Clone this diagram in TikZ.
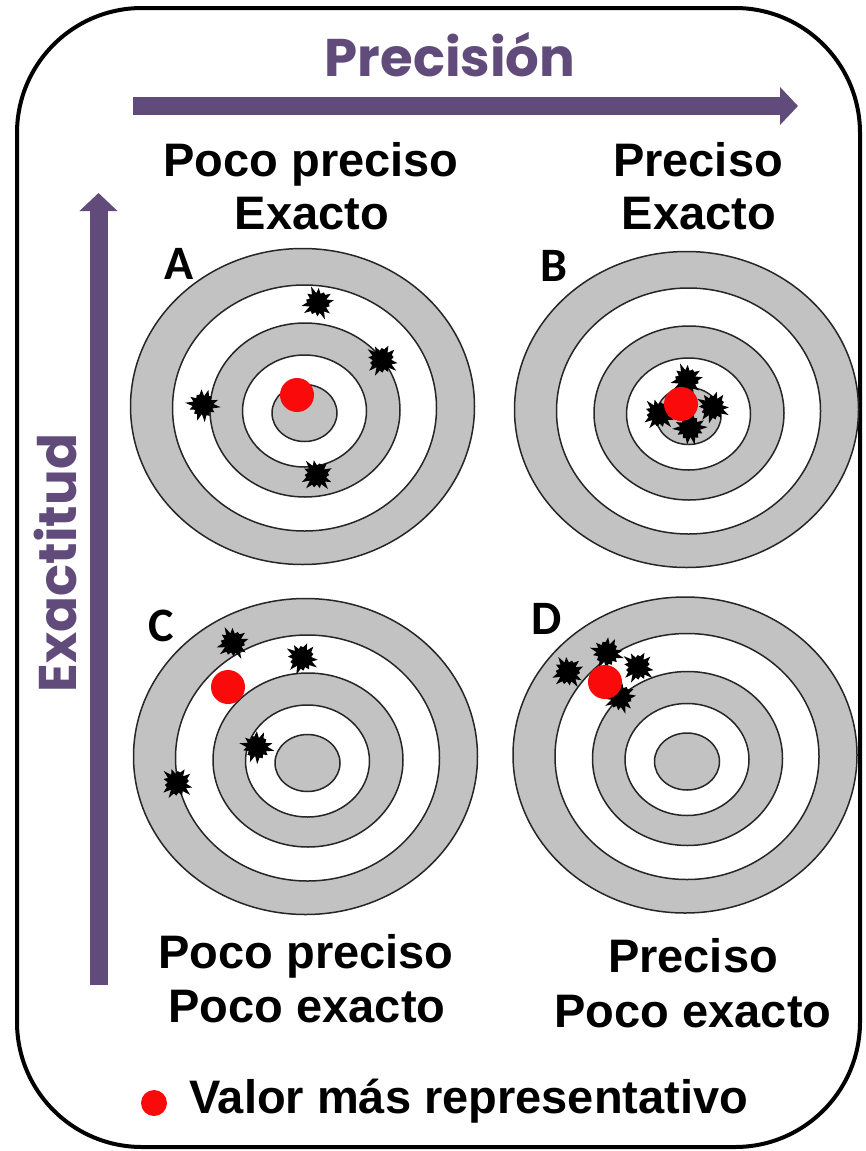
\documentclass[tikz,border=0pt]{standalone}
\usepackage{fontspec}
\setmainfont{Liberation Sans}
\newfontfamily\carlfont{Carlito}
\newfontfamily\poppfont{Poppins}
\usetikzlibrary{arrows.meta}
\definecolor{purp}{RGB}{96,75,123}
\definecolor{ringgray}{RGB}{194,194,194}
\definecolor{dotred}{RGB}{250,10,10}
\tikzset{
  ring/.style={draw=black!85, line width=1.5pt},
  lbl/.style={inner sep=0pt, anchor=base, font=\fontsize{47}{56}\selectfont\bfseries},
  letter/.style={inner sep=0pt, anchor=base, font=\carlfont\fontsize{48}{56}\selectfont\bfseries},
  purptitle/.style={inner sep=0pt, anchor=base, text=purp, font=\poppfont\fontsize{53}{60}\selectfont\bfseries},
  purparrow/.style={draw=purp, line width=18pt, -{Triangle[length=18pt,width=37pt]}},
  reddot/.style={circle, fill=dotred, inner sep=0pt, minimum size=34pt},
  pics/target/.style={code={
    \filldraw[fill=ringgray,ring] (0,0) ellipse[x radius=172pt,y radius=158pt];
    \filldraw[fill=white,ring] (2,1.5) ellipse[x radius=132pt,y radius=123pt];
    \filldraw[fill=ringgray,ring] (2.5,3.5) ellipse[x radius=95pt,y radius=87pt];
    \filldraw[fill=white,ring] (2,4.5) ellipse[x radius=62pt,y radius=56pt];
    \filldraw[fill=ringgray,ring] (2,6.5) ellipse[x radius=32.5pt,y radius=28.5pt];
  }},
  pics/splat/.style={code={
    \fill[black] (0:16) \foreach \i in {1,...,27} { -- ({\i*360/28}:{ifthenelse(mod(\i,2)==0, 15+3*sin(\i*131), 10+sin(\i*77))}) } -- cycle;
  }},
}
\begin{document}
\begin{tikzpicture}[x=1pt,y=-1pt]
\useasboundingbox (0,0) rectangle (865,1151);
% frame
\draw[line width=4pt, rounded corners=125pt] (17,8) rectangle (860,1147);
% title and axes
\node[purptitle] (title) at (450,76) {Precisión};
\coordinate (hs) at (133,106);
\coordinate (he) at (798,106);
\draw[purparrow] (hs) -- (he);
\coordinate (vs) at (98.5,985);
\coordinate (ve) at (98.5,193);
\draw[purparrow] (vs) -- (ve);
\node[purptitle, rotate=90] (ytitle) at (76,563) {Exactitud};
% top labels
\node[lbl] (tl1) at (311,176) {Poco preciso};
\node[lbl] (tl2) at (312,229) {Exacto};
\node[lbl] (tr1) at (698,176) {Preciso};
\node[lbl] (tr2) at (699,229) {Exacto};
% targets
\pic at (302.5,406.5) {target};
\pic at (686.5,409.5) {target};
\pic at (305.5,756.5) {target};
\pic at (685,755) {target};
% letters
\node[letter] (la) at (179,279) {A};
\node[letter] (lb) at (553.5,281) {B};
\node[letter] (lc) at (161.5,641) {C};
\node[letter] (ld) at (546.5,634) {D};
% shots A
\pic[rotate=10] at (318,303) {splat};
\pic[rotate=40] at (382,360) {splat};
\pic[rotate=70] at (203,405) {splat};
\pic[rotate=25] at (317,475) {splat};
\node[reddot] (da) at (297,395) {};
% shots B
\pic[rotate=10] at (687,380) {splat};
\pic[rotate=50] at (713,407) {splat};
\pic[rotate=30] at (659,414) {splat};
\pic[rotate=80] at (690,428) {splat};
\node[reddot] (db) at (681,404) {};
% shots C
\pic[rotate=15] at (233,643) {splat};
\pic[rotate=45] at (302,658) {splat};
\pic[rotate=65] at (257,747) {splat};
\pic[rotate=35] at (177,783) {splat};
\node[reddot] (dc) at (228,687) {};
% shots D
\pic[rotate=20] at (568,672) {splat};
\pic[rotate=60] at (607,653) {splat};
\pic[rotate=40] at (638,667) {splat};
\pic[rotate=5] at (620,697) {splat};
\node[reddot] (dd) at (605,682) {};
% bottom labels
\node[lbl] (bl1) at (306,968) {Poco preciso};
\node[lbl] (bl2) at (307,1022) {Poco exacto};
\node[lbl] (br1) at (693,972) {Preciso};
\node[lbl] (br2) at (693,1027) {Poco exacto};
% legend
\node[reddot, minimum size=26pt] (legdot) at (154,1103) {};
\node[lbl, anchor=base west] (legtext) at (189,1113) {Valor más representativo};
\end{tikzpicture}
\end{document}
